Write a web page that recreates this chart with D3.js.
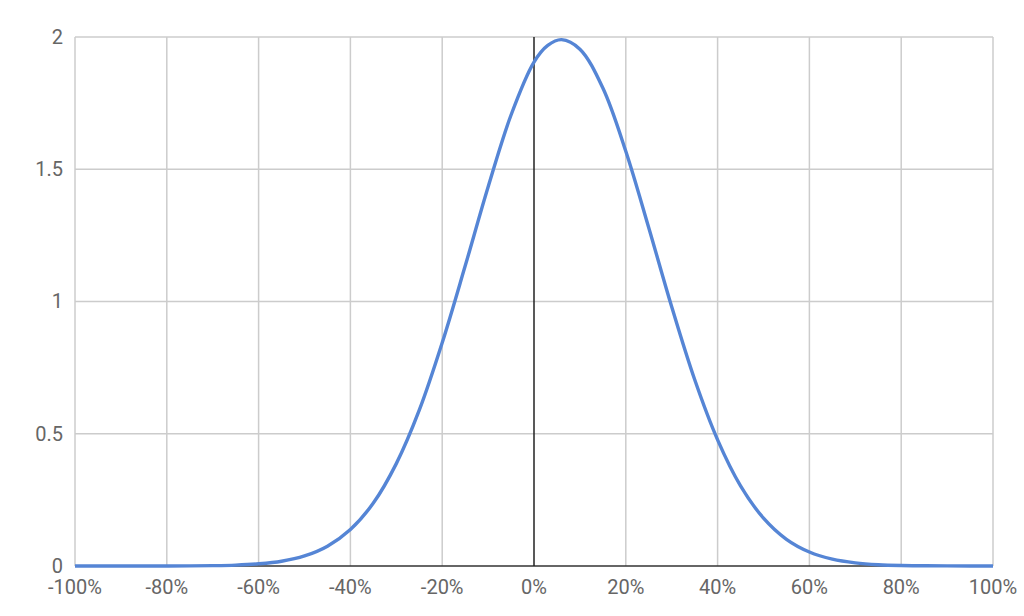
<!DOCTYPE html>
<html>
<head>
<meta charset="utf-8">
<script src="https://cdn.jsdelivr.net/npm/d3@7"></script>
<style>
  body { margin: 0; background: #fff; }
  svg { display: block; font-family: Roboto, "Noto Sans", sans-serif; }
  .grid line { stroke: #cccccc; stroke-width: 1.5; }
  .tick-label { fill: #666666; font-size: 20px; }
</style>
</head>
<body>
<svg width="1024" height="616"></svg>
<script>
// x positions (fraction, -1 = -100%) and curve values
const xValues = [
  -1.00, -0.95, -0.90, -0.85, -0.80, -0.75, -0.70, -0.65, -0.60, -0.55,
  -0.50, -0.45, -0.40, -0.35, -0.30, -0.25, -0.20, -0.15, -0.10, -0.05,
   0.00,  0.03,  0.06,  0.10,  0.15,  0.20,  0.25,  0.30,  0.35,  0.40,  0.45,
   0.50,  0.55,  0.60,  0.65,  0.70,  0.75,  0.80,  0.85,  0.90,  0.95, 1.00
];
const yValues = [
  0.000, 0.000, 0.000, 0.0001, 0.0002, 0.0005, 0.0014, 0.0035, 0.0083, 0.018,
  0.038, 0.075, 0.138, 0.238, 0.387, 0.589, 0.844, 1.134, 1.433, 1.705,
  1.905, 1.968, 1.990, 1.954, 1.807, 1.568, 1.279, 0.980, 0.705, 0.477, 0.303,
  0.181, 0.101, 0.053, 0.026, 0.012, 0.005, 0.002, 0.001, 0.0003, 0.0001, 0.000
];

const xTicks = [-1, -0.8, -0.6, -0.4, -0.2, 0, 0.2, 0.4, 0.6, 0.8, 1];
const yTicks = [0, 0.5, 1, 1.5, 2];

const svg = d3.select("svg");
const margin = { top: 37, right: 31, bottom: 50, left: 75 };
const width = 1024, height = 616;

const x = d3.scaleLinear().domain([-1, 1]).range([margin.left, width - margin.right]);
const y = d3.scaleLinear().domain([0, 2]).range([height - margin.bottom, margin.top]);

const grid = svg.append("g").attr("class", "grid");

grid.selectAll(".vline")
  .data(xTicks.filter(d => d !== 0))
  .enter().append("line")
  .attr("x1", d => x(d)).attr("x2", d => x(d))
  .attr("y1", y(2)).attr("y2", y(0));

grid.selectAll(".hline")
  .data(yTicks.filter(d => d !== 0))
  .enter().append("line")
  .attr("x1", x(-1)).attr("x2", x(1))
  .attr("y1", d => y(d)).attr("y2", d => y(d));

// baseline and zero line
svg.append("line")
  .attr("x1", x(-1)).attr("x2", x(1))
  .attr("y1", y(0)).attr("y2", y(0))
  .attr("stroke", "#333").attr("stroke-width", 1.5);

svg.append("line")
  .attr("x1", x(0)).attr("x2", x(0))
  .attr("y1", y(2)).attr("y2", y(0))
  .attr("stroke", "#222").attr("stroke-width", 1.5);

// tick labels
svg.selectAll(".ylab")
  .data(yTicks)
  .enter().append("text")
  .attr("class", "tick-label")
  .attr("x", margin.left - 12)
  .attr("y", d => y(d))
  .attr("dy", "0.34em")
  .attr("text-anchor", "end")
  .text(d => d);

svg.selectAll(".xlab")
  .data(xTicks)
  .enter().append("text")
  .attr("class", "tick-label")
  .attr("x", d => x(d))
  .attr("y", 594)
  .attr("text-anchor", "middle")
  .text(d => Math.round(d * 100) + "%");

// the curve
const points = xValues.map((v, i) => [v, yValues[i]]);
const line = d3.line()
  .x(d => x(d[0]))
  .y(d => y(d[1]))
  .curve(d3.curveCatmullRom);

svg.append("path")
  .datum(points)
  .attr("fill", "none")
  .attr("stroke", "#5585d5")
  .attr("stroke-width", 3.4)
  .attr("stroke-linejoin", "round")
  .attr("d", line);
</script>
</body>
</html>
